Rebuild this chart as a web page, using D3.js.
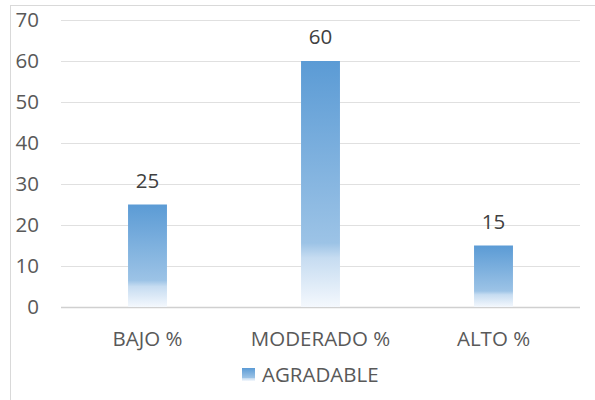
<!DOCTYPE html>
<html>
<head>
<meta charset="utf-8">
<script src="https://cdn.jsdelivr.net/npm/d3@7"></script>
<style>
  html, body { margin: 0; padding: 0; background: #fff; }
  svg { display: block; }
</style>
</head>
<body>
<script>
// Survey result: share of responses per level (percent)
const categories = ["BAJO %", "MODERADO %", "ALTO %"];
const values = [25, 60, 15];
const seriesName = "AGRADABLE";
const yTicks = [0, 10, 20, 30, 40, 50, 60, 70];

const W = 595, H = 400;
const margin = { left: 61, right: 15, top: 20, bottom: 93 };
const font = "'Open Sans', 'Liberation Sans', sans-serif";
const fontSize = 20.5;
const textColor = "#595959";

const svg = d3.select("body").append("svg")
  .attr("width", W).attr("height", H);

// Chart area frame
svg.append("rect")
  .attr("x", 10.5).attr("y", 5.5)
  .attr("width", W + 10).attr("height", H + 10)
  .attr("fill", "#fff").attr("stroke", "#d9d9d9").attr("stroke-width", 1);

const x = d3.scaleBand()
  .domain(categories)
  .range([margin.left, W - margin.right])
  .paddingInner(0.775).paddingOuter(0.3875);

const y = d3.scaleLinear()
  .domain([0, 70])
  .range([H - margin.bottom, margin.top]);

// Vertical fill: saturated blue on top fading to white at the base
const defs = svg.append("defs");
const grad = defs.append("linearGradient")
  .attr("id", "barFill").attr("x1", 0).attr("y1", 0).attr("x2", 0).attr("y2", 1);
[[0, "#5b9bd5"], [0.74, "#9cc3e6"], [0.8, "#c6dcf1"], [1, "#f4f8fd"]].forEach(([o, c]) =>
  grad.append("stop").attr("offset", o).attr("stop-color", c));

// Horizontal gridlines
const yAxis = d3.axisLeft(y).tickValues(yTicks).tickSize(-(W - margin.right - margin.left)).tickPadding(22);
const gy = svg.append("g").attr("transform", `translate(${margin.left},0)`).call(yAxis);
gy.select(".domain").remove();
gy.selectAll(".tick line")
  .attr("stroke", d => d === 0 ? "#d0d0d0" : "#e0e0e0")
  .attr("stroke-width", d => d === 0 ? 1.5 : 1.2);
gy.selectAll(".tick text")
  .attr("fill", textColor).attr("font-family", font).attr("font-size", fontSize);

// Bars
svg.append("g").selectAll("rect")
  .data(values)
  .join("rect")
  .attr("x", (d, i) => x(categories[i]))
  .attr("y", d => y(d))
  .attr("width", x.bandwidth())
  .attr("height", d => y(0) - y(d))
  .attr("fill", "url(#barFill)");

// Value labels
svg.append("g").selectAll("text")
  .data(values)
  .join("text")
  .attr("x", (d, i) => x(categories[i]) + x.bandwidth() / 2)
  .attr("y", d => y(d) - 17)
  .attr("text-anchor", "middle")
  .attr("fill", "#404040")
  .attr("font-family", font).attr("font-size", fontSize)
  .text(d => d);

// Category axis labels
const xAxis = d3.axisBottom(x).tickSize(0).tickPadding(24);
const gx = svg.append("g").attr("transform", `translate(0,${y(0)})`).call(xAxis);
gx.select(".domain").remove();
gx.selectAll(".tick text")
  .attr("fill", textColor).attr("font-family", font).attr("font-size", fontSize);

// Legend
const legend = svg.append("g").attr("transform", "translate(242,368)");
legend.append("rect").attr("width", 13).attr("height", 13).attr("fill", "url(#barFill)");
legend.append("text")
  .attr("x", 20).attr("y", 13.5)
  .attr("fill", textColor).attr("font-family", font).attr("font-size", fontSize)
  .text(seriesName);
</script>
</body>
</html>
